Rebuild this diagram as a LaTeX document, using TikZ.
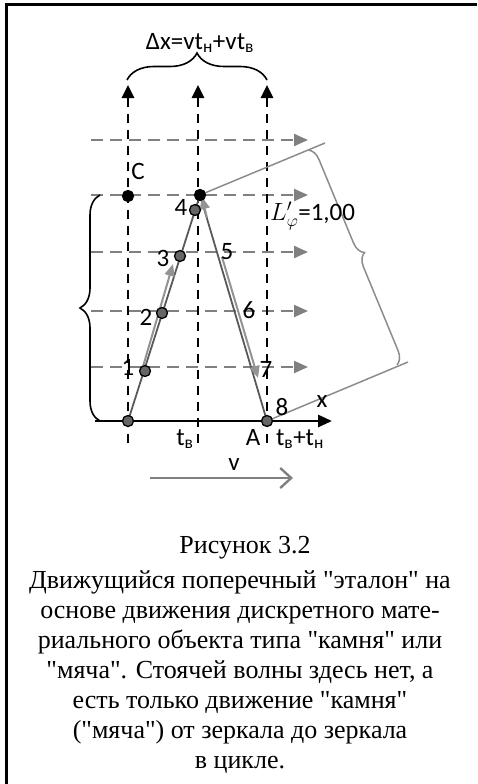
\documentclass[tikz,border=0pt]{standalone}
\usepackage{fontspec}
\setmainfont{Liberation Serif}
\newfontfamily\diagfont{Carlito}
\usetikzlibrary{arrows.meta, decorations.pathreplacing, positioning}
\newcommand{\qt}{\textquotedbl{}}

\begin{document}
\begin{tikzpicture}[
        x=1pt, y=-1pt,
        % Text Styles
        lbl/.style={font=\diagfont\fontsize{25}{27}\selectfont, inner sep=0pt},
        capt/.style={font=\fontsize{26}{30}\selectfont, inner sep=0pt},
        % Lines
        mirrorLine/.style={-{Triangle[length=13pt, width=12pt]}, line width=2.8pt, dash pattern=on 9pt off 7pt},
        hflow/.style={-{Triangle[length=14pt, width=12pt]}, line width=2.2pt, draw=gray, dash pattern=on 12pt off 7pt},
        axisLine/.style={-{Triangle[length=14pt, width=12pt]}, line width=2.8pt},
        track/.style={line width=1.8pt, draw=black!65},
        moveArrow/.style={-{Triangle[length=12pt, width=10pt]}, line width=2pt, draw=gray!85, fill=gray!85},
        thinGray/.style={line width=1.5pt, draw=gray!90},
        curly/.style={decorate, line width=1.6pt},
        % Points
        ball/.style={circle, draw=black, line width=1.3pt, fill=black!60, minimum size=11pt, inner sep=0pt},
        blackDot/.style={ball, fill=black}
    ]

    \useasboundingbox (0,0) rectangle (477,784);

    % --- FRAME ---
    \draw[line width=3pt] (477,5) -- (6.5,5) -- (6.5,784);

    % --- COORDINATES ---
    \coordinate (O)   at (128,421);
    \coordinate (Top) at (200,195);
    \coordinate (A)   at (267,421);
    \coordinate (C)   at (128,196);
    \coordinate (p1)  at (145,371);
    \coordinate (p2)  at (162,313);
    \coordinate (p3)  at (180,256);
    \coordinate (p4)  at (195,210);

    % --- HORIZONTAL WAVE FRONTS ---
    \foreach \y [count=\i] in {140,195,252,311,367} {
        \coordinate (hl\i) at (91,\y);
        \coordinate (hr\i) at (308,\y);
        \draw[hflow] (hl\i) -- (hr\i);
    }

    % --- MIRRORS (vertical) ---
    \foreach \x/\n in {128/l,198/m,267/r} {
        \coordinate (vb\n) at (\x,443);
        \coordinate (vt\n) at (\x,85);
        \draw[mirrorLine] (vb\n) -- (vt\n);
    }

    % --- AXIS ---
    \coordinate (ax0) at (95,421);
    \coordinate (ax1) at (332,421);
    \draw[axisLine] (ax0) -- (ax1);

    % --- BRACES ---
    \coordinate (bt0) at (127,80);
    \coordinate (bt1) at (267,80);
    \draw[curly, decoration={brace, amplitude=27pt}] (bt0) -- (bt1);
    \coordinate (bl0) at (100,421);
    \coordinate (bl1) at (100,195);
    \draw[curly, decoration={brace, amplitude=20pt}] (bl0) -- (bl1);

    % --- ROTATED LENGTH L' ---
    \coordinate (lt1) at (325,143);
    \coordinate (lb1) at (408,362);
    \draw[thinGray] (Top) -- (lt1);
    \draw[thinGray] (A) -- (lb1);
    \coordinate (g0) at (308,150);
    \coordinate (g1) at (397,365);
    \draw[thinGray, decorate, decoration={brace, amplitude=13pt}] (g0) -- (g1);

    % --- TRAJECTORY OF THE BALL ---
    \draw[track] (O) -- (Top) -- (A);
    \coordinate (m1a) at (142,370);
    \coordinate (m1b) at (173,264);
    \draw[moveArrow] (m1a) -- (m1b);
    \coordinate (m2a) at (207,218);
    \coordinate (m2b) at (202,197);
    \draw[moveArrow] (m2a) -- (m2b);
    \coordinate (m3a) at (222,257);
    \coordinate (m3b) at (258,378);
    \draw[moveArrow] (m3a) -- (m3b);

    % --- POINTS ---
    \node[ball] (nO) at (O) {};
    \node[ball] (nA) at (A) {};
    \node[ball] (n1) at (p1) {};
    \node[ball] (n2) at (p2) {};
    \node[ball] (n3) at (p3) {};
    \node[ball] (n4) at (p4) {};
    \node[blackDot] (nC) at (C) {};
    \node[blackDot] (nTop) at (Top) {};

    % --- LABELS ---
    \node[lbl] (dx) at (200,43) {Δx=vt\textsubscript{н}+vt\textsubscript{в}};
    \node[lbl] (lC) at (138,171) {C};
    \node[lbl] (l1) at (128,367) {1};
    \node[lbl] (l2) at (146,317) {2};
    \node[lbl] (l3) at (163,258) {3};
    \node[lbl] (l4) at (181,207) {4};
    \node[lbl] (l5) at (227,252) {5};
    \node[lbl] (l6) at (249,310) {6};
    \node[lbl] (l7) at (266,369) {7};
    \node[lbl] (l8) at (282,407) {8};
    \node[lbl] (lx) at (322,402) {x};
    \node[lbl] (ltb) at (185,439) {t\textsubscript{в}};
    \node[lbl] (lA) at (253,437) {A};
    \node[lbl] (ltbh) at (300,439) {t\textsubscript{в}+t\textsubscript{н}};
    \node[lbl, anchor=west] (lL) at (270,216) {$L'_{\varphi}$=1,00};

    % --- VELOCITY ---
    \node[lbl] (lv) at (234,465) {v};
    \coordinate (v0) at (150,478);
    \coordinate (v1) at (293,478);
    \draw[-{Straight Barb[length=11pt, width=20pt]}, line width=2.4pt, gray] (v0) -- (v1);

    % --- CAPTION ---
    \node[capt, anchor=base] (fig) at (245,553) {Рисунок 3.2};
    \node[capt, anchor=north, align=center] (txt) at (240,570) {Движущийся поперечный \qt эталон\qt\ на\\основе движения дискретного мате-\\риального объекта типа \qt камня\qt\ или\\\qt мяча\qt. Стоячей волны здесь нет, а\\есть только движение \qt камня\qt\\(\qt мяча\qt) от зеркала до зеркала\\в цикле.};

\end{tikzpicture}
\end{document}
